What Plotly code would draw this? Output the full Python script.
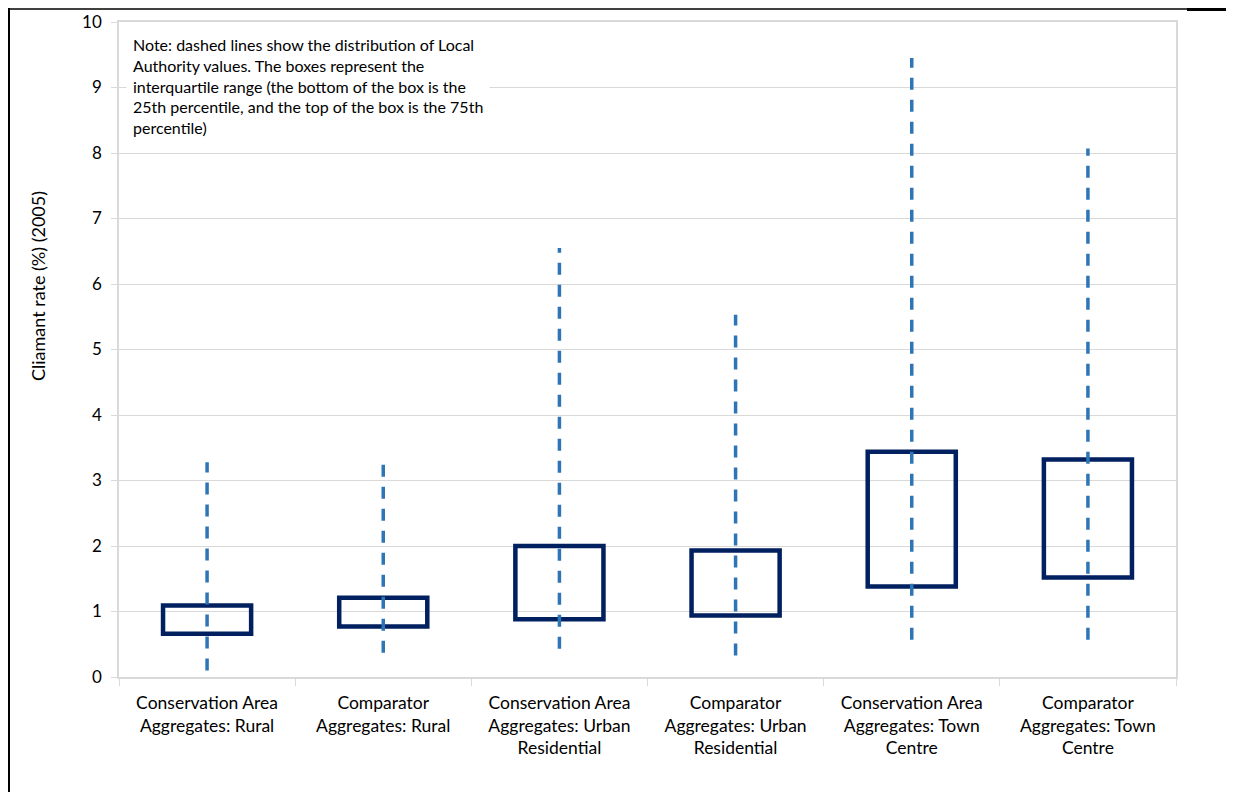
import plotly.graph_objects as go

categories = [
    "Conservation Area<br>Aggregates: Rural",
    "Comparator<br>Aggregates: Rural",
    "Conservation Area<br>Aggregates: Urban<br>Residential",
    "Comparator<br>Aggregates: Urban<br>Residential",
    "Conservation Area<br>Aggregates: Town<br>Centre",
    "Comparator<br>Aggregates: Town<br>Centre",
]
q1 = [0.66, 0.77, 0.88, 0.94, 1.38, 1.52]
q3 = [1.09, 1.21, 2.00, 1.93, 3.44, 3.32]
la_min = [0.10, 0.37, 0.43, 0.33, 0.57, 0.57]
la_max = [3.28, 3.33, 6.55, 5.53, 9.45, 8.07]
y_ticks = list(range(0, 11))

FONT = "Lato"
OFF = 8  # page body margin
PAGE_W, PAGE_H = 1234, 792
W, H = PAGE_W - OFF, PAGE_H - OFF
# plot area in page pixels
P_L, P_R, P_T, P_B = 119, 1176, 22, 677
ML, MR, MT, MB = P_L - OFF, PAGE_W - P_R, P_T - OFF, PAGE_H - P_B
PW, PH = P_R - P_L, P_B - P_T

fig = go.Figure()

fig.add_trace(go.Bar(
    x=categories,
    y=[b - a for a, b in zip(q1, q3)],
    base=q1,
    width=0.5,
    marker=dict(color="rgba(0,0,0,0)", line=dict(color="#002060", width=4.5)),
    hoverinfo="skip",
    showlegend=False,
))

for c, lo, hi in zip(categories, la_min, la_max):
    fig.add_trace(go.Scatter(
        x=[c, c], y=[lo, hi], mode="lines",
        line=dict(color="#2E75B6", width=3.5, dash="12px,10px"),
        hoverinfo="skip", showlegend=False,
    ))

def px_x(p):  # page pixel -> paper fraction
    return (p - P_L) / PW

def px_y(p):
    return (P_B - p) / PH

shapes = [
    dict(type="line", xref="paper", yref="paper", x0=px_x(9), x1=px_x(9), y0=px_y(8), y1=px_y(800),
         line=dict(color="black", width=2)),
    dict(type="line", xref="paper", yref="paper", x0=px_x(8), x1=px_x(1190), y0=px_y(9), y1=px_y(9),
         line=dict(color="black", width=1.5)),
    dict(type="line", xref="paper", yref="paper", x0=px_x(1187), x1=px_x(1240), y0=px_y(9.5), y1=px_y(9.5),
         line=dict(color="black", width=3)),
]

note = ("Note: dashed lines show the distribution of Local<br>"
        "Authority values. The boxes represent the<br>"
        "interquartile range (the bottom of the box is the<br>"
        "25th percentile, and the top of the box is the 75th<br>"
        "percentile)")

fig.update_layout(
    width=W, height=H,
    margin=dict(l=ML, r=MR, t=MT, b=MB, pad=0, autoexpand=False),
    paper_bgcolor="white", plot_bgcolor="white",
    font=dict(family=FONT, color="#000000", size=15),
    showlegend=False,
    shapes=shapes,
    annotations=[
        dict(text=note, xref="paper", yref="paper", x=px_x(126), y=px_y(28),
             xanchor="left", yanchor="top", align="left", showarrow=False,
             bgcolor="white", borderpad=6,
             font=dict(family=FONT, size=16, color="#000000")),
        dict(text="Cliamant rate (%) (2005)", xref="paper", yref="paper",
             x=px_x(38), y=px_y(286), textangle=-90, showarrow=False,
             xanchor="center", yanchor="middle",
             font=dict(family=FONT, size=18, color="#000000")),
    ],
)

fig.update_xaxes(
    type="category", range=[-0.5, 5.5], automargin=False,
    showgrid=False, showline=True, linecolor="#D9D9D9", linewidth=1.5, mirror=True,
    ticks="outside", tickson="boundaries", ticklen=7, tickcolor="#D9D9D9",
    ticklabelstandoff=9,
    tickfont=dict(family=FONT, size=17.5, color="#000000"),
)
fig.update_yaxes(
    range=[0, 10], tickvals=y_ticks, ticktext=[str(v) for v in y_ticks], automargin=False,
    showgrid=True, gridcolor="#D9D9D9", gridwidth=1, zeroline=False,
    showline=True, linecolor="#D9D9D9", linewidth=1.5, mirror=True,
    ticks="outside", ticklen=6, tickcolor="#D9D9D9",
    ticklabelstandoff=6,
    tickfont=dict(family=FONT, size=17, color="#000000"),
)

fig.write_html("out.html")
